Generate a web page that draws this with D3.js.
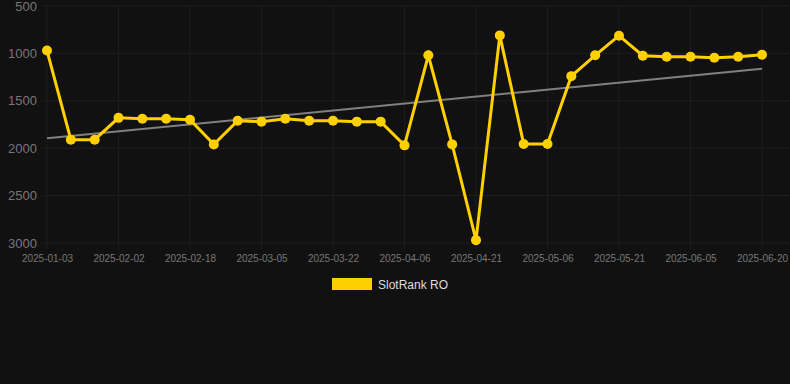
<!DOCTYPE html>
<html>
<head>
<meta charset="utf-8">
<script src="https://cdn.jsdelivr.net/npm/d3@7"></script>
<style>
  html, body { margin: 0; padding: 0; background: #111111; }
  svg { display: block; }
</style>
</head>
<body>
<div id="chart_area"></div>
<script>
// categories (one per sample), only every third one gets a label
var dates = ["2025-01-03","2025-01-13","2025-01-23","2025-02-02","2025-02-07","2025-02-13",
  "2025-02-18","2025-02-23","2025-02-28","2025-03-05","2025-03-11","2025-03-16",
  "2025-03-22","2025-03-27","2025-04-01","2025-04-06","2025-04-11","2025-04-16",
  "2025-04-21","2025-04-26","2025-05-01","2025-05-06","2025-05-11","2025-05-16",
  "2025-05-21","2025-05-26","2025-05-31","2025-06-05","2025-06-10","2025-06-15","2025-06-20"];

var rankValues = [970, 1910, 1910, 1680, 1690, 1690, 1700, 1960, 1710, 1720, 1690, 1710,
  1710, 1720, 1720, 1970, 1020, 1960, 2970, 810, 1955, 1955, 1240, 1020,
  813, 1025, 1035, 1035, 1045, 1035, 1015];

var yTicks = [500, 1000, 1500, 2000, 2500, 3000];
var seriesName = "SlotRank RO";

var sFrameWidth = 790;
var sFrameHeight = 384;

var sFrame = d3.select("#chart_area").append("svg")
  .attr("width", sFrameWidth)
  .attr("height", sFrameHeight);

sFrame.append("rect")
  .attr("width", sFrameWidth)
  .attr("height", sFrameHeight)
  .attr("fill", "#111111");

// scales
var x = d3.scalePoint().domain(dates).range([47, 762]);
var y = d3.scaleLinear().domain([500, 3000]).range([6, 243]);

var gridLeft = 42;
var gridRight = 790;

// horizontal grid
sFrame.append("g").selectAll("line")
  .data(yTicks)
  .join("line")
  .attr("x1", gridLeft)
  .attr("x2", gridRight)
  .attr("y1", function(d){ return y(d); })
  .attr("y2", function(d){ return y(d); })
  .attr("stroke", "#1f1f1f")
  .attr("stroke-width", 1);

// vertical grid on labelled categories
var labelled = dates.filter(function(d, i){ return i % 3 === 0; });
sFrame.append("g").selectAll("line")
  .data(labelled)
  .join("line")
  .attr("x1", function(d){ return x(d); })
  .attr("x2", function(d){ return x(d); })
  .attr("y1", y(500))
  .attr("y2", y(3000) + 6)
  .attr("stroke", "#1c1c1c")
  .attr("stroke-width", 1);

// y labels
var yAxis = d3.axisLeft(y).tickValues(yTicks).tickSize(0).tickPadding(0).tickFormat(d3.format("d"));
var gY = sFrame.append("g").attr("transform", "translate(37,0)").call(yAxis);
gY.select(".domain").remove();
gY.selectAll("text")
  .attr("fill", "#777777")
  .attr("font-family", "Liberation Sans, Arial, sans-serif")
  .attr("font-size", 13);

// x labels
var xAxis = d3.axisBottom(x).tickValues(labelled).tickSize(0).tickPadding(0);
var gX = sFrame.append("g").attr("transform", "translate(0,255)").call(xAxis);
gX.select(".domain").remove();
gX.selectAll("text")
  .attr("fill", "#777777")
  .attr("font-family", "Liberation Sans, Arial, sans-serif")
  .attr("font-size", 10);

// trend line (least squares over the series)
var n = rankValues.length;
var meanI = d3.mean(rankValues, function(d, i){ return i; });
var meanV = d3.mean(rankValues);
var num = d3.sum(rankValues, function(d, i){ return (i - meanI) * (d - meanV); });
var den = d3.sum(rankValues, function(d, i){ return (i - meanI) * (i - meanI); });
var slope = num / den;
var icpt = meanV - slope * meanI;
var trend = [0, n - 1].map(function(i){ return { d: dates[i], v: icpt + slope * i }; });

sFrame.append("path")
  .datum(trend)
  .attr("fill", "none")
  .attr("stroke", "#808080")
  .attr("stroke-width", 2)
  .attr("d", d3.line().x(function(p){ return x(p.d); }).y(function(p){ return y(p.v); }));

// series line
var pts = dates.map(function(d, i){ return { d: d, v: rankValues[i] }; });
sFrame.append("path")
  .datum(pts)
  .attr("fill", "none")
  .attr("stroke", "#FFD000")
  .attr("stroke-width", 3)
  .attr("stroke-linejoin", "miter")
  .attr("d", d3.line().x(function(p){ return x(p.d); }).y(function(p){ return y(p.v); }));

sFrame.append("g").selectAll("circle")
  .data(pts)
  .join("circle")
  .attr("cx", function(p){ return x(p.d); })
  .attr("cy", function(p){ return y(p.v); })
  .attr("r", 5)
  .attr("fill", "#FFD000");

// legend
sFrame.append("rect")
  .attr("x", 332).attr("y", 278)
  .attr("width", 40).attr("height", 12)
  .attr("fill", "#FFD000");
sFrame.append("text")
  .attr("x", 378).attr("y", 289)
  .attr("fill", "#dddddd")
  .attr("font-family", "Liberation Sans, Arial, sans-serif")
  .attr("font-size", 12)
  .text(seriesName);
</script>
</body>
</html>
